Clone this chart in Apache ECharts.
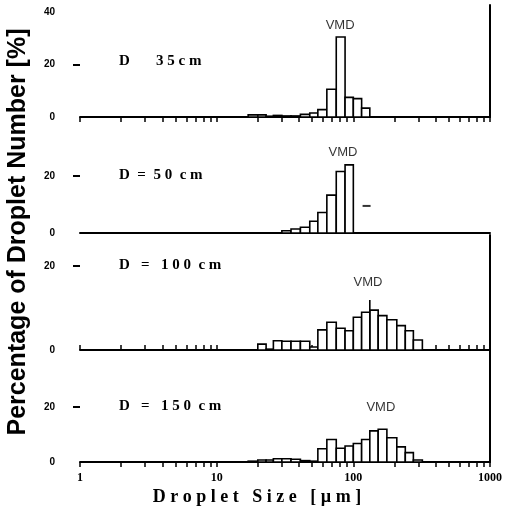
<!DOCTYPE html>
<html>
<head>
<meta charset="utf-8">
<script src="https://cdn.jsdelivr.net/npm/echarts@6/dist/echarts.min.js"></script>
<style>
html, body { margin: 0; padding: 0; background: #fff; }
#chart { width: 505px; height: 508px; }
</style>
</head>
<body>
<div id="chart"></div>
<script>
// size classes (um), same for all four panels
var binLo = [17, 20, 23, 26, 30, 35, 41, 48, 55, 64, 75, 87, 100, 115, 132, 152, 176, 208, 240, 275];
var binHi = [20, 23, 26, 30, 35, 41, 48, 55, 64, 75, 87, 100, 115, 132, 152, 176, 208, 240, 275, 320];

// percentage of droplet number per class
var pct35 = [0.8, 0.8, 0.3, 0.6, 0.4, 0.4, 1.0, 1.5, 2.8, 10.6, 30.5, 7.5, 7.0, 3.4, 0, 0, 0, 0, 0, 0];
var pct50 = [0, 0, 0, 0, 0.8, 1.4, 2.0, 4.1, 7.2, 13.3, 21.6, 23.9, 0, 0, 0, 0, 0, 0, 0, 0];
var pct100 = [0, 1.4, 0.2, 2.2, 2.1, 2.1, 2.1, 0.7, 4.8, 6.6, 5.2, 4.6, 7.8, 9.0, 9.5, 8.2, 7.2, 5.8, 4.6, 2.4];
var pct150 = [0.3, 0.7, 0.7, 1.2, 1.2, 1.0, 0.5, 0.3, 4.8, 8.2, 5.0, 5.8, 6.7, 8.2, 11.3, 11.9, 8.8, 5.5, 3.4, 0.7];

var panelLabels = ['D       3 5 c m', 'D  =  5 0  c m', 'D   =   1 0 0  c m', 'D   =   1 5 0  c m'];

// VMD text position [um, %] and marks
var vmdLabel = [[80, 35], [84, 28.4], [128, 16], [159, 20]];
var vmdDash50 = [[125, 9.5]];
var vmdCross100 = [[132, 0], [132, 11.9]];

var xTickLabels = [1, 10, 100, 1000];
var xMinorTicks = [2, 3, 4, 5, 6, 7, 8, 9, 20, 30, 40, 50, 60, 70, 80, 90, 200, 300, 400, 500, 600, 700, 800, 900];
var yTickLabels = [[0, 20, 40], [0, 20], [0, 20], [0, 20]];
var yDashTicks = [20];

var panels = [pct35, pct50, pct100, pct150];

// layout of the stacked panels (px) and y range of each
var gridTop = [5, 117, 235, 350];
var gridHeight = [112, 116, 115, 112];
var yMax = [42.7, 40.7, 27.4, 40.7];

function binData(vals) {
    var out = [];
    vals.forEach(function (v, i) {
        if (v > 0) out.push([binLo[i], binHi[i], v]);
    });
    return out;
}

function renderBin(params, api) {
    var p0 = api.coord([api.value(0), 0]);
    var p1 = api.coord([api.value(1), api.value(2)]);
    return {
        type: 'rect',
        shape: { x: p0[0], y: p1[1], width: p1[0] - p0[0], height: p0[1] - p1[1] },
        style: { fill: '#fff', stroke: '#000', lineWidth: 1.6 }
    };
}

const chart = echarts.init(document.getElementById('chart'), null, { renderer: 'canvas' });

var grids = [], xAxes = [], yAxes = [], series = [], titles = [];

panels.forEach(function (vals, i) {
    grids.push({ left: 80, right: 15, top: gridTop[i], height: gridHeight[i] });

    xAxes.push({
        type: 'log',
        logBase: 10,
        min: 1,
        max: 1000,
        gridIndex: i,
        axisLine: { show: true, lineStyle: { color: '#000', width: 2 } },
        axisTick: {
            show: i !== 1,
            inside: i === 2,
            length: 5,
            customValues: xMinorTicks.concat(xTickLabels),
            lineStyle: { color: '#000', width: 1.5 }
        },
        axisLabel: {
            show: i === 3,
            color: '#000',
            fontFamily: 'Liberation Serif',
            fontWeight: 'bold',
            fontSize: 12,
            margin: 10,
            formatter: function (v) { return String(Math.round(v)); }
        },
        splitLine: { show: false },
        name: i === 3 ? 'D r o p l e t   S i z e   [ \u00b5 m ]' : '',
        nameLocation: 'middle',
        nameGap: 26,
        nameTextStyle: {
            color: '#000',
            fontFamily: 'Liberation Serif',
            fontWeight: 'bold',
            fontSize: 18,
            padding: [0, 56, 0, 0]
        }
    });

    yAxes.push({
        type: 'value',
        gridIndex: i,
        min: 0,
        max: yMax[i],
        axisLine: { show: false },
        splitLine: { show: false },
        axisTick: { show: true, length: 7, customValues: yDashTicks, lineStyle: { color: '#000', width: 2 } },
        axisLabel: {
            customValues: yTickLabels[i],
            margin: 25,
            color: '#000',
            fontFamily: 'Liberation Sans',
            fontWeight: 'bold',
            fontSize: 10
        }
    });

    series.push({
        type: 'custom',
        xAxisIndex: i,
        yAxisIndex: i,
        renderItem: renderBin,
        encode: { x: [0, 1], y: 2 },
        data: binData(vals),
        silent: true
    });

    series.push({
        type: 'scatter',
        xAxisIndex: i,
        yAxisIndex: i,
        symbolSize: 0,
        data: [vmdLabel[i]],
        label: {
            show: true,
            position: 'inside',
            formatter: 'VMD',
            color: '#000',
            fontFamily: 'Liberation Sans',
            fontSize: 13
        }
    });

    titles.push({
        text: panelLabels[i],
        left: 114,
        top: [49, 163, 253, 394][i],
        textStyle: { color: '#000', fontFamily: 'Liberation Serif', fontWeight: 'bold', fontSize: 15 }
    });
});

// right-hand frame line of panels 1, 3 and 4
[0, 2, 3].forEach(function (i) {
    yAxes.push({
        type: 'value',
        gridIndex: i,
        position: 'right',
        min: 0,
        max: yMax[i],
        axisLine: { show: true, lineStyle: { color: '#000', width: 2 } },
        axisTick: { show: false },
        axisLabel: { show: false },
        splitLine: { show: false }
    });
});

series.push({
    type: 'scatter',
    xAxisIndex: 1,
    yAxisIndex: 1,
    symbol: 'rect',
    symbolSize: [8, 2],
    itemStyle: { color: '#000' },
    data: vmdDash50
});

series.push({
    type: 'line',
    xAxisIndex: 2,
    yAxisIndex: 2,
    symbol: 'none',
    lineStyle: { color: '#000', width: 1.6 },
    data: vmdCross100
});

chart.setOption({
    backgroundColor: '#fff',
    animation: false,
    title: titles,
    grid: grids,
    xAxis: xAxes,
    yAxis: yAxes,
    series: series,
    graphic: [{
        type: 'text',
        x: 18,
        y: 232,
        rotation: Math.PI / 2,
        style: {
            text: 'Percentage of Droplet Number [%]',
            font: 'bold 25px "Liberation Sans"',
            fill: '#000',
            align: 'center',
            verticalAlign: 'middle'
        }
    }]
});
</script>
</body>
</html>
